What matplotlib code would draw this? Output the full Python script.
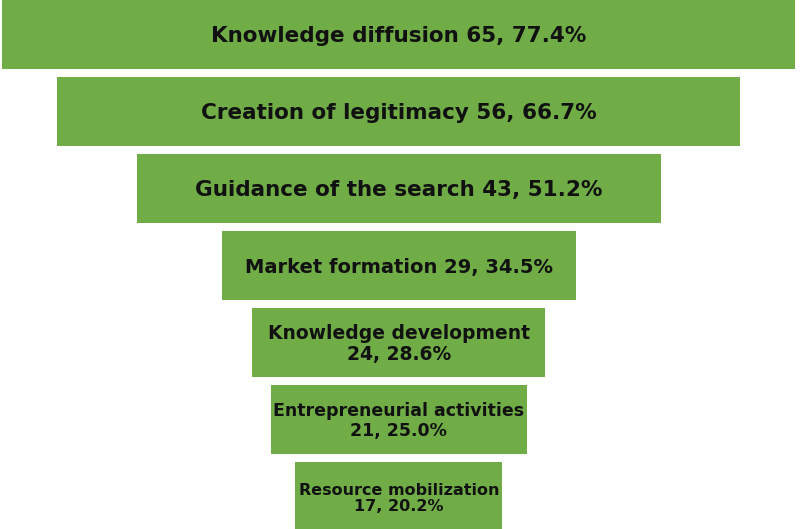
import matplotlib
matplotlib.use('Agg')
from matplotlib import pyplot as plt

## Data
stages = ['Knowledge diffusion', 'Creation of legitimacy', 'Guidance of the search',
          'Market formation', 'Knowledge development', 'Entrepreneurial activities',
          'Resource mobilization']
counts = [65, 56, 43, 29, 24, 21, 17]
shares = [77.4, 66.7, 51.2, 34.5, 28.6, 25.0, 20.2]
# long names get the numbers on a second line
two_line = [False, False, False, False, True, True, True]
font_sizes = [15.5, 15.5, 15.5, 14, 13.5, 12.5, 11.5]

plt.rcParams['font.family'] = ['DejaVu Sans']

fig = plt.figure(figsize=(8, 5.29), dpi=100)
ax = fig.add_axes([0, 0, 1, 1])

ypos = list(range(len(stages)))
lefts = [-c / 2 for c in counts]
ax.barh(ypos, counts, left=lefts, height=0.896, color='#70AD47')

for y, name, c, s, tl, fs in zip(ypos, stages, counts, shares, two_line, font_sizes):
    sep = '\n' if tl else ' '
    label = '%s%s%d, %.1f%%' % (name, sep, c, s)
    ax.text(0, y + 0.02, label, ha='center', va='center', fontsize=fs,
            fontweight='bold', color='#111111', linespacing=1.1)

ax.set_xlim(-32.7, 32.9)
ax.set_ylim(6.42, -0.448)
ax.axis('off')

fig.savefig('out.png', dpi=100, facecolor='white')
